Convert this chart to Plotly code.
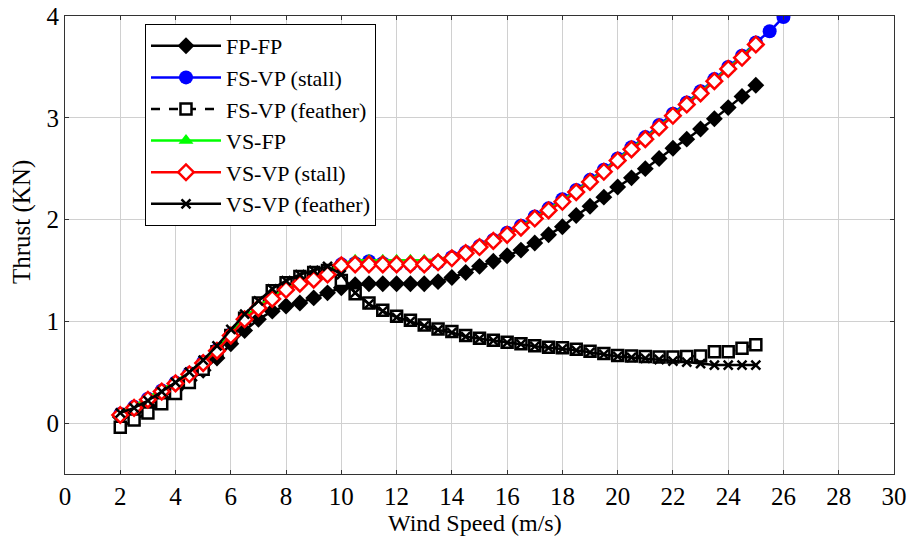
import plotly.graph_objects as go

# Wind speed grid (m/s)
wind = [2 + 0.5 * i for i in range(47)]          # 2 .. 25
wind_ext = [2 + 0.5 * i for i in range(49)]      # 2 .. 26

# Thrust (kN) for each control strategy
fp_fp = [0.06, 0.11, 0.17, 0.25, 0.33, 0.42, 0.52, 0.64, 0.78, 0.91,
         1.02, 1.10, 1.15, 1.18, 1.23, 1.28, 1.33, 1.36, 1.37, 1.37,
         1.37, 1.37, 1.37, 1.39, 1.43, 1.48, 1.54, 1.59, 1.645, 1.70,
         1.77, 1.85, 1.93, 2.04, 2.13, 2.22, 2.32, 2.41, 2.50, 2.60,
         2.70, 2.79, 2.89, 2.99, 3.10, 3.21, 3.32]

fs_vp_stall = [0.09, 0.16, 0.24, 0.32, 0.40, 0.49, 0.60, 0.72, 0.87, 1.03,
               1.14, 1.23, 1.32, 1.38, 1.42, 1.47, 1.56, 1.57, 1.59, 1.57,
               1.56, 1.56, 1.56, 1.58, 1.63, 1.68, 1.74, 1.80, 1.87, 1.94,
               2.03, 2.11, 2.20, 2.29, 2.39, 2.49, 2.60, 2.71, 2.81, 2.93,
               3.04, 3.15, 3.26, 3.38, 3.50, 3.61, 3.74, 3.85, 3.99]

fs_vp_feather = [-0.04, 0.03, 0.10, 0.19, 0.29, 0.40, 0.53, 0.70, 0.86, 1.03,
                 1.18, 1.30, 1.38, 1.44, 1.48, 1.50, 1.40, 1.27, 1.18, 1.11,
                 1.05, 1.01, 0.965, 0.925, 0.90, 0.86, 0.835, 0.815, 0.795, 0.78,
                 0.76, 0.745, 0.74, 0.725, 0.705, 0.685, 0.665, 0.66, 0.655, 0.65,
                 0.65, 0.655, 0.66, 0.70, 0.70, 0.735, 0.77]

vs_fp = [0.10, 0.17, 0.25, 0.33, 0.41, 0.50, 0.61, 0.73, 0.88, 1.04,
         1.15, 1.24, 1.33, 1.39, 1.43, 1.48, 1.57, 1.60, 1.60, 1.60,
         1.60, 1.60, 1.60, 1.61, 1.64, 1.68, 1.74, 1.80, 1.86, 1.93,
         2.02, 2.10, 2.19, 2.28, 2.38, 2.48, 2.59, 2.70, 2.80, 2.915,
         3.03, 3.14, 3.25, 3.37, 3.49, 3.60, 3.73]

vs_vp_stall = [0.08, 0.15, 0.23, 0.31, 0.39, 0.48, 0.59, 0.71, 0.86, 1.02,
               1.13, 1.22, 1.31, 1.37, 1.41, 1.46, 1.55, 1.56, 1.56, 1.56,
               1.56, 1.56, 1.56, 1.58, 1.62, 1.67, 1.73, 1.79, 1.85, 1.92,
               2.01, 2.09, 2.175, 2.27, 2.37, 2.47, 2.58, 2.69, 2.79, 2.905,
               3.02, 3.13, 3.24, 3.36, 3.48, 3.59, 3.72]

vs_vp_feather = [0.10, 0.15, 0.22, 0.31, 0.40, 0.50, 0.62, 0.76, 0.92, 1.07,
                 1.20, 1.32, 1.40, 1.46, 1.50, 1.54, 1.46, 1.28, 1.17, 1.10,
                 1.04, 1.00, 0.955, 0.915, 0.89, 0.85, 0.83, 0.81, 0.79, 0.775,
                 0.755, 0.74, 0.73, 0.715, 0.695, 0.675, 0.655, 0.645, 0.635, 0.625,
                 0.61, 0.60, 0.585, 0.57, 0.57, 0.57, 0.57]

FONT = "Liberation Serif, Times New Roman, serif"

fig = go.Figure()

fig.add_trace(go.Scatter(
    x=wind, y=fp_fp, name="FP-FP", mode="lines+markers",
    line=dict(color="black", width=2.5),
    marker=dict(symbol="diamond", size=13, color="black")))

fig.add_trace(go.Scatter(
    x=wind_ext, y=fs_vp_stall, name="FS-VP (stall)", mode="lines+markers",
    line=dict(color="#0000ff", width=2.5),
    marker=dict(symbol="circle", size=14, color="#0000ff")))

fig.add_trace(go.Scatter(
    x=wind, y=fs_vp_feather, name="FS-VP (feather)", mode="lines+markers",
    line=dict(color="black", width=2.5, dash="dash"),
    marker=dict(symbol="square", size=11, color="white",
                line=dict(color="black", width=2.5))))

fig.add_trace(go.Scatter(
    x=wind, y=vs_fp, name="VS-FP", mode="lines+markers",
    line=dict(color="#00ff00", width=2.5),
    marker=dict(symbol="triangle-up", size=13, color="#00ff00")))

fig.add_trace(go.Scatter(
    x=wind, y=vs_vp_stall, name="VS-VP (stall)", mode="lines+markers",
    line=dict(color="#ff0000", width=2.5),
    marker=dict(symbol="diamond", size=12, color="white",
                line=dict(color="#ff0000", width=2.5))))

fig.add_trace(go.Scatter(
    x=wind, y=vs_vp_feather, name="VS-VP (feather)", mode="lines+markers",
    line=dict(color="black", width=2.5),
    marker=dict(symbol="x-thin", size=9, color="black",
                line=dict(color="black", width=2.5))))

axis_common = dict(
    showline=True, linecolor="#333333", linewidth=1, mirror="ticks",
    ticks="inside", ticklen=4, tickcolor="#333333",
    showgrid=True, gridcolor="#d0d0d0", gridwidth=1,
    zeroline=False, automargin=False,
    tickfont=dict(family=FONT, size=25, color="black"),
)

fig.update_xaxes(range=[0, 30], dtick=2, tick0=0, **axis_common)
fig.update_yaxes(range=[-0.5, 4], dtick=1, tick0=0, **axis_common)

# Axis titles
fig.add_annotation(text="Wind Speed (m/s)",
                   xref="paper", yref="paper", x=0.495, y=-0.106,
                   xanchor="center", yanchor="middle", showarrow=False,
                   font=dict(family=FONT, size=24, color="black"))
fig.add_annotation(text="Thrust (KN)", textangle=-90,
                   xref="paper", yref="paper", x=-0.052, y=0.55,
                   xanchor="center", yanchor="middle", showarrow=False,
                   font=dict(family=FONT, size=25, color="black"))

fig.update_layout(
    width=912, height=536,
    margin=dict(l=65, r=18, t=16, b=62),
    paper_bgcolor="white", plot_bgcolor="white",
    font=dict(family=FONT, color="black"),
    legend=dict(x=0.0965, y=0.9825, xanchor="left", yanchor="top",
                bgcolor="white", bordercolor="black", borderwidth=1,
                font=dict(family=FONT, size=22, color="black"),
                itemwidth=70),
    showlegend=True,
)

fig.write_html("out.html")
